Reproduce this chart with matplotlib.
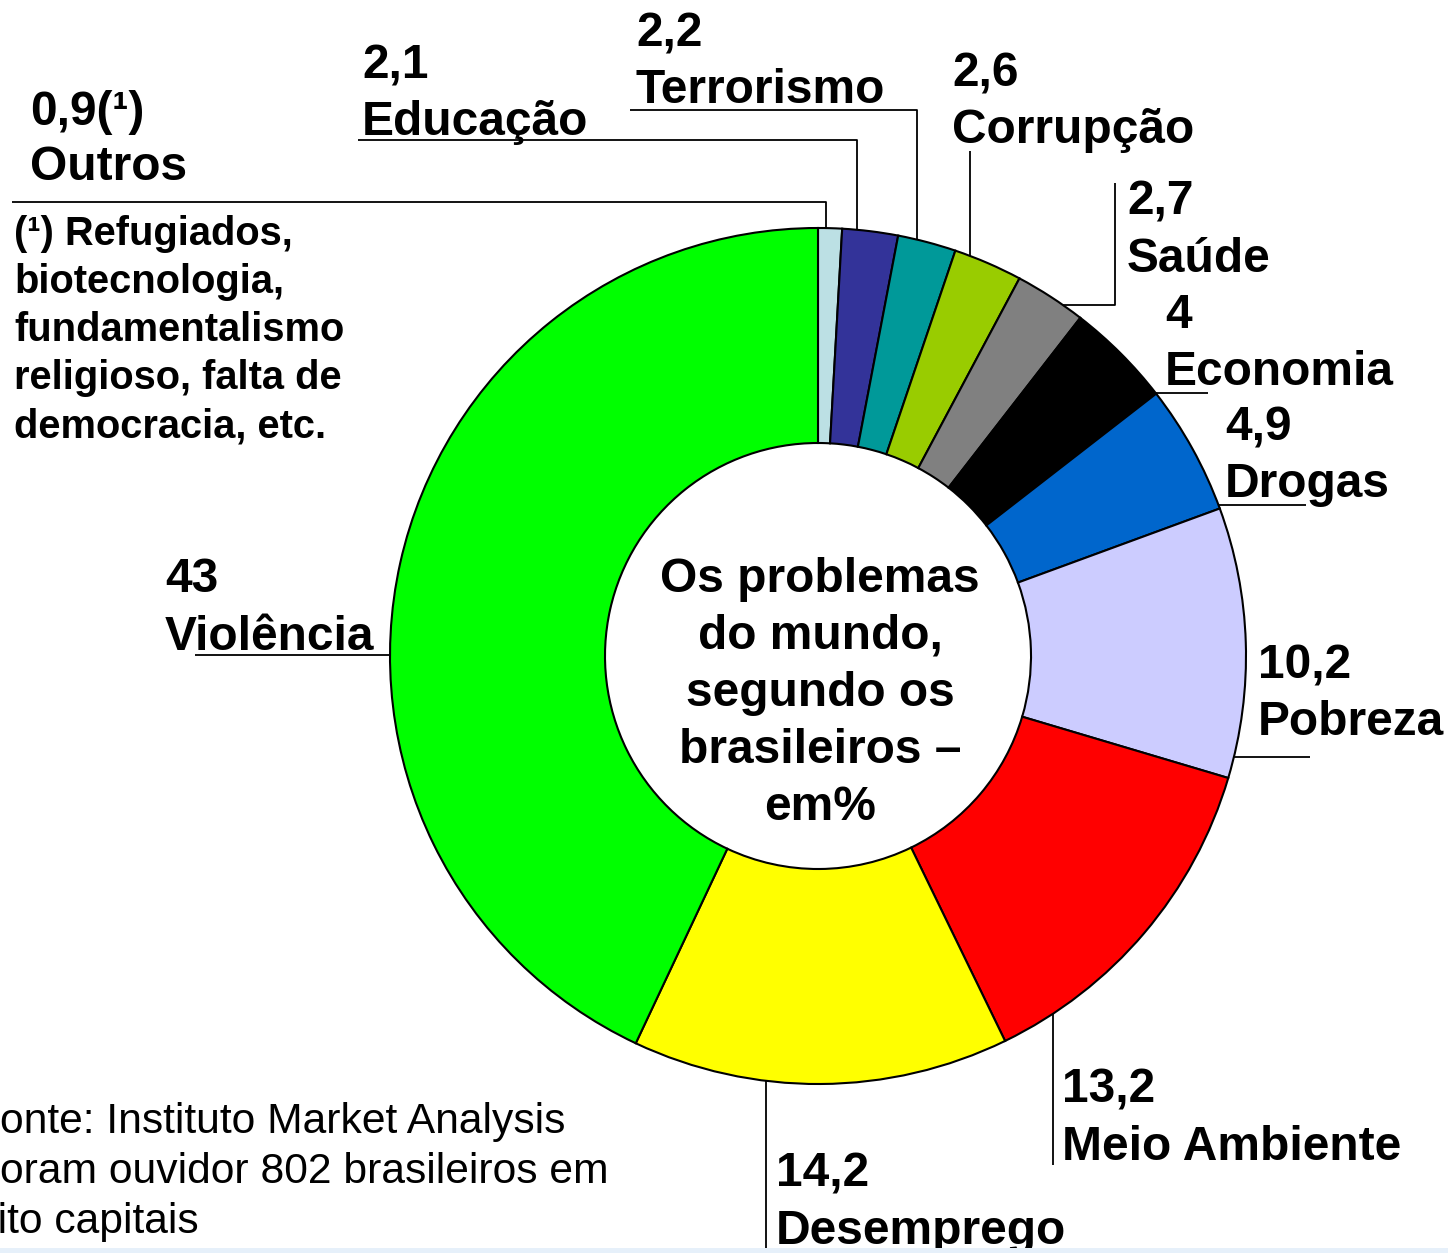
import matplotlib
matplotlib.use("Agg")
import matplotlib.pyplot as plt
import matplotlib.patches as mPatches
import numpy as np

plt.rcParams['font.family'] = ['Liberation Sans', 'DejaVu Sans']

# ---- data (clockwise from the top) ----
categories = ['Outros', 'Educação', 'Terrorismo', 'Corrupção', 'Saúde', 'Economia',
              'Drogas', 'Pobreza', 'Meio Ambiente', 'Desemprego', 'Violência']
values = [0.9, 2.1, 2.2, 2.6, 2.7, 4, 4.9, 10.2, 13.2, 14.2, 43]
value_texts = ['0,9(¹)', '2,1', '2,2', '2,6', '2,7', '4', '4,9', '10,2', '13,2', '14,2', '43']
colors = ['#BCE0E4', '#333399', '#009999', '#99CC00', '#808080', '#000000',
          '#0066CC', '#CCCCFF', '#FF0000', '#FFFF00', '#00FF00']

footnote = ['(¹) Refugiados,', 'biotecnologia,', 'fundamentalismo',
            'religioso, falta de', 'democracia, etc.']
centre_lines = ['Os problemas', 'do mundo,', 'segundo os', 'brasileiros –', 'em%']
source_lines = ['Fonte: Instituto Market Analysis',
                'Foram ouvidor 802 brasileiros em',
                'oito capitais']

W, H = 1448, 1253
CX, CY, R = 818, 656, 428   # pixel coords of donut

def py(y):
    # pixel row -> data y
    return H - y

f = plt.figure(figsize=(W / 100, H / 100), dpi=100)
ax1 = f.add_axes([0, 0, 1, 1])

ax1.pie(values, colors=colors, startangle=90, counterclock=False,
        center=(CX, py(CY)), radius=R,
        wedgeprops=dict(width=R - 213, edgecolor='black', linewidth=1.5))
ax1.set_aspect('auto')
ax1.set_xlim(0, W)
ax1.set_ylim(0, H)
ax1.axis('off')

# label placement: (x, baseline of value, baseline of name)
label_pos = {
    'Outros': (30, 125, 180),
    'Educação': (362, 78, 135),
    'Terrorismo': (636, 47, 103),
    'Corrupção': (952, 87, 143),
    'Saúde': (1127, 215, 272),
    'Economia': (1165, 328, 385),
    'Drogas': (1225, 440, 497),
    'Pobreza': (1258, 678, 735),
    'Meio Ambiente': (1062, 1102, 1160),
    'Desemprego': (776, 1187, 1244),
    'Violência': (165, 592, 650),
}
for name, val in zip(categories, value_texts):
    x, y1, y2 = label_pos[name]
    ax1.text(x, py(y1), val, fontsize=34.5, fontweight='bold', va='baseline', ha='left')
    ax1.text(x, py(y2), name, fontsize=34.5, fontweight='bold', va='baseline', ha='left')

# leader lines
def ring_y(x, up=True):
    d = np.sqrt(R ** 2 - (x - CX) ** 2)
    return CY - d if up else CY + d

def ring_x(y, right=True):
    d = np.sqrt(R ** 2 - (y - CY) ** 2)
    return CX + d if right else CX - d

def line(xs, ys):
    ax1.plot(xs, [py(v) for v in ys], color='black', lw=1.3, solid_capstyle='butt')

line([12, 826, 826], [202, 202, ring_y(826)])
line([358, 857, 857], [140, 140, ring_y(857)])
line([630, 917, 917], [110, 110, ring_y(917)])
line([970, 970], [151, ring_y(970)])
line([1115, 1115, ring_x(305)], [183, 305, 305])
line([ring_x(393), 1208], [393, 393])
line([ring_x(505), 1306], [505, 505])
line([ring_x(757), 1310], [757, 757])
line([1053, 1053], [ring_y(1053, up=False), 1165])
line([766, 766], [ring_y(766, up=False), 1250])
line([195, ring_x(655, right=False)], [655, 655])

# footnote
for i, s in enumerate(footnote):
    ax1.text(14, py(245 + 48 * i), s, fontsize=28.7, fontweight='bold',
             va='baseline', ha='left')

# centre text
for i, s in enumerate(centre_lines):
    ax1.text(820, py(592 + 57 * i), s, fontsize=34.5, fontweight='bold',
             ha='center', va='baseline')

# source (left edge cut off as in the original)
for i, s in enumerate(source_lines):
    ax1.text(-26, py(1133 + 50 * i), s, fontsize=30.7, va='baseline', ha='left')

# thin light strip at the bottom edge
f.patches.append(mPatches.Rectangle((0, 0), 1, 5 / H, transform=f.transFigure,
                                    facecolor='#E6F0FA', edgecolor='none'))

f.savefig('out.png', dpi=100)
